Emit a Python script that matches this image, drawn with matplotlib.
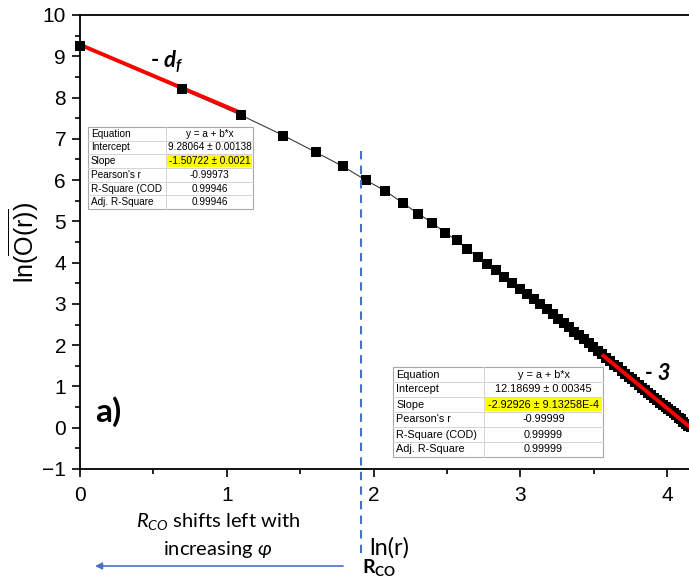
import matplotlib
matplotlib.use("Agg")
import matplotlib.pyplot as plt
from matplotlib.patches import Rectangle
from matplotlib.ticker import MultipleLocator

plt.rcParams['font.family'] = ['Liberation Sans', 'DejaVu Sans']
plt.rcParams['mathtext.fontset'] = 'custom'
plt.rcParams['mathtext.rm'] = 'Liberation Sans'
plt.rcParams['mathtext.it'] = 'Lato:italic'
plt.rcParams['mathtext.bf'] = 'Lato:bold'
plt.rcParams['mathtext.bfit'] = 'Lato:italic:bold'

# ---- data: ln(r) and ln(O(r)) ----
ln_r = [0.000, 0.693, 1.099, 1.386, 1.609, 1.792, 1.946, 2.079, 2.197, 2.303,
        2.398, 2.485, 2.565, 2.639, 2.708, 2.773, 2.833, 2.890, 2.944, 2.996,
        3.045, 3.091, 3.135, 3.178, 3.219, 3.258, 3.296, 3.332, 3.367, 3.401,
        3.434, 3.466, 3.497, 3.526, 3.555, 3.584, 3.611, 3.638, 3.664, 3.689,
        3.714, 3.738, 3.761, 3.784, 3.807, 3.829, 3.850, 3.871, 3.892, 3.912,
        3.932, 3.951, 3.970, 3.989, 4.007, 4.025, 4.043, 4.060, 4.078, 4.094,
        4.111, 4.127, 4.143, 4.159]
ln_O = [9.26, 8.20, 7.57, 7.08, 6.67, 6.33, 6.00, 5.74, 5.45, 5.19,
        4.97, 4.73, 4.54, 4.33, 4.14, 3.97, 3.81, 3.66, 3.51, 3.37,
        3.24, 3.11, 2.99, 2.87, 2.75, 2.64, 2.54, 2.43, 2.33, 2.24,
        2.14, 2.05, 1.96, 1.87, 1.79, 1.69, 1.61, 1.53, 1.46, 1.38,
        1.31, 1.24, 1.17, 1.10, 1.04, 0.97, 0.91, 0.85, 0.79, 0.73,
        0.67, 0.61, 0.56, 0.50, 0.45, 0.40, 0.35, 0.30, 0.24, 0.20,
        0.15, 0.10, 0.05, 0.01]

fit1_intercept, fit1_slope = 9.28064, -1.50722
fit2_intercept, fit2_slope = 12.18699, -2.92926
fit1_range = (0, 2)      # point indices
fit2_range = (34, 63)
r_co = 1.914
r_co_top = 6.71

table1_labels = ["Equation", "Intercept", "Slope", "Pearson's r", "R-Square (COD", "Adj. R-Square"]
table1_values = ["y = a + b*x", "9.28064 \u00b1 0.00138", "-1.50722 \u00b1 0.0021",
                 "-0.99973", "0.99946", "0.99946"]
table2_labels = ["Equation", "Intercept", "Slope", "Pearson's r", "R-Square (COD)", "Adj. R-Square"]
table2_values = ["y = a + b*x", "12.18699 \u00b1 0.00345", "-2.92926 \u00b1 9.13258E-4",
                 "-0.99999", "0.99999", "0.99999"]

W, H = 689, 579
fig = plt.figure(figsize=(W / 100, H / 100), dpi=100)

def fx(px):
    return px / W

def fy(py):
    return 1 - py / H

ax_left, ax_top, ax_bottom = 80, 15, 469
px_per_x = 146.8
ax_w = 612
ax = fig.add_axes([fx(ax_left), fy(ax_bottom), ax_w / W, (ax_bottom - ax_top) / H])
ax.set_xlim(0, ax_w / px_per_x)
ax.set_ylim(-1, 10)

# connecting line and markers
ax.plot(ln_r, ln_O, color='#3a3a3a', lw=0.8, zorder=2)
a, b = fit1_range
ax.plot([ln_r[a], ln_r[b]],
        [fit1_intercept + fit1_slope * ln_r[a], fit1_intercept + fit1_slope * ln_r[b]],
        color='#ff0000', lw=2.8, zorder=2.5, solid_capstyle='butt')
ax.plot(ln_r, ln_O, 's', color='black', ms=7.5, mew=0, zorder=3, clip_on=False)
a, b = fit2_range
ax.plot([ln_r[a], ln_r[b]],
        [fit2_intercept + fit2_slope * ln_r[a], fit2_intercept + fit2_slope * ln_r[b]],
        color='#ff0000', lw=2.8, zorder=4, solid_capstyle='butt')

# R_CO dashed line
ax.plot([r_co, r_co], [r_co_top, -3.15], color='#4472c4', lw=1.5,
        linestyle=(0, (4, 3)), clip_on=False, zorder=5)

# ticks / spines
ax.xaxis.set_major_locator(MultipleLocator(1))
ax.xaxis.set_minor_locator(MultipleLocator(0.5))
ax.yaxis.set_major_locator(MultipleLocator(1))
ax.yaxis.set_minor_locator(MultipleLocator(0.5))
ax.tick_params(which='major', direction='out', length=6, width=1.2, labelsize=15, pad=4)
ax.tick_params(which='minor', direction='out', length=3.5, width=1.2)
ax.tick_params(axis='x', which='major', pad=6)
for s in ax.spines.values():
    s.set_linewidth(1.3)
ax.spines['right'].set_visible(False)

# y label
fig.text(fx(24), fy(242), r'$\mathrm{ln}(\overline{\mathrm{O(r)}})$', rotation=90,
         ha='center', va='center', fontsize=18)

# x label and annotations (Calibri-like)
cal = ['Lato', 'DejaVu Sans']
fig.text(fx(389), fy(548), 'ln(r)', family=cal, fontsize=17, ha='center', va='center')
fig.text(fx(218), fy(522), r'$\mathit{R}_{\mathit{CO}}$ shifts left with',
         family=cal, fontsize=14.5, ha='center', va='center')
fig.text(fx(218), fy(549), r'increasing $\mathit{\varphi}$',
         family=cal, fontsize=14.5, ha='center', va='center')
fig.text(fx(362), fy(568), r'$\mathbf{R}_{\mathbf{CO}}$', family=cal, fontsize=14,
         ha='left', va='center')
ax.annotate('', xy=(fx(95), fy(566)), xytext=(fx(343), fy(566)),
            xycoords='figure fraction', textcoords='figure fraction',
            arrowprops=dict(arrowstyle='-|>', color='#4472c4', lw=1.2,
                            mutation_scale=10, shrinkA=0, shrinkB=0))

fig.text(fx(150), fy(62), r'- $\mathbfit{d}_{\mathbfit{f}}$', family=cal, fontsize=16,
         fontweight='bold', ha='left', va='center')
fig.text(fx(645), fy(374), '- 3', family=cal, fontsize=16, fontweight='bold',
         style='italic', ha='left', va='center')
fig.text(fx(95), fy(412), 'a)', family=cal, fontsize=24, fontweight='bold',
         ha='left', va='center')

# tables
def draw_table(left, top, div, right, bottom, labels, values, hl_row, fs):
    n = len(labels)
    rh = (bottom - top) / n
    fig.patches.append(Rectangle((fx(left), fy(bottom)), fx(right - left), (bottom - top) / H,
                                 transform=fig.transFigure, facecolor='white',
                                 edgecolor='#a8a8a8', lw=0.8, zorder=10))
    yl = top + hl_row * rh
    fig.patches.append(Rectangle((fx(div + 1), fy(yl + rh - 1)), fx(right - div - 2), (rh - 2) / H,
                                 transform=fig.transFigure, facecolor='#ffff00',
                                 edgecolor='none', zorder=11))
    for i in range(1, n):
        yy = top + i * rh
        fig.lines.append(plt.Line2D([fx(left), fx(right)], [fy(yy), fy(yy)],
                                    transform=fig.transFigure, color='#d4d4d4', lw=0.7, zorder=12))
    fig.lines.append(plt.Line2D([fx(div), fx(div)], [fy(top), fy(bottom)],
                                transform=fig.transFigure, color='#d4d4d4', lw=0.7, zorder=12))
    for i in range(n):
        yc = top + (i + 0.5) * rh
        fig.text(fx(left + 3), fy(yc), labels[i], fontsize=fs, ha='left', va='center', zorder=13)
        fig.text(fx((div + right) / 2), fy(yc), values[i], fontsize=fs, ha='center',
                 va='center', zorder=13)

draw_table(88, 127, 166, 253, 209, table1_labels, table1_values, 2, 7.2)
draw_table(393, 367, 484, 603, 457, table2_labels, table2_values, 2, 7.8)

fig.savefig('out.png', dpi=100)
